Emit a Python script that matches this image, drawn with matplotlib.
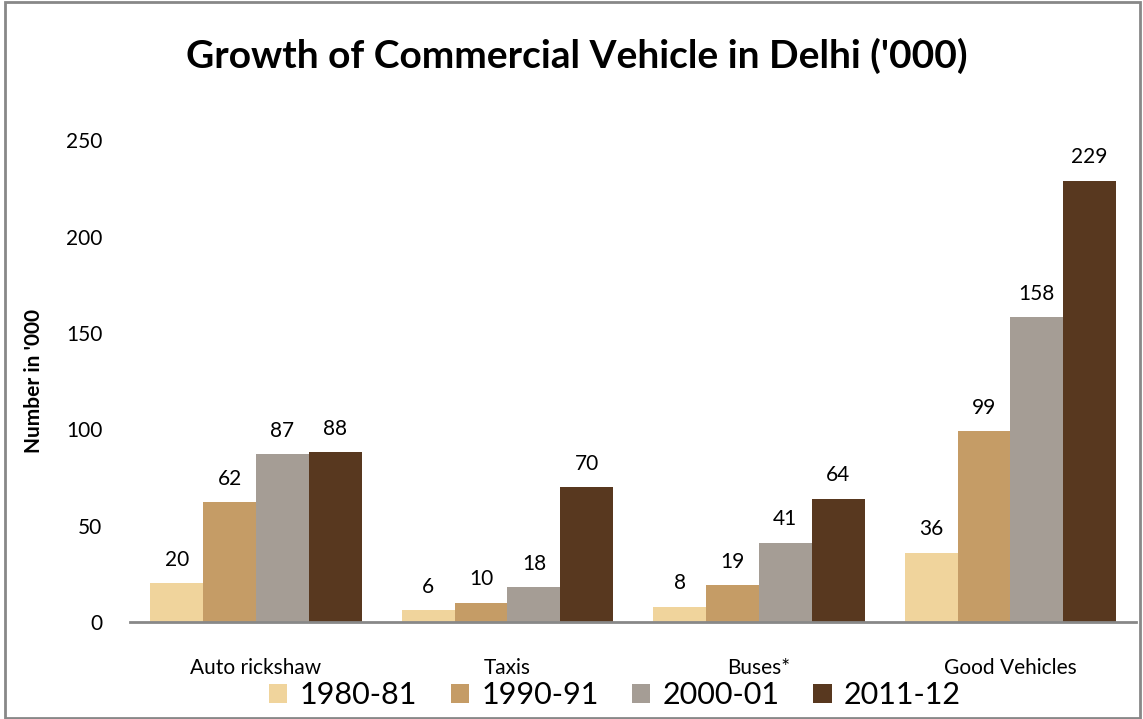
import numpy as np
import matplotlib.pyplot as plt

categories = ['Auto rickshaw', 'Taxis', 'Buses*', 'Good Vehicles']
years = ['1980-81', '1990-91', '2000-01', '2011-12']
v1980 = [20, 6, 8, 36]
v1990 = [62, 10, 19, 99]
v2000 = [87, 18, 41, 158]
v2011 = [88, 70, 64, 229]
series = [v1980, v1990, v2000, v2011]
colors = ['#F0D49C', '#C59C66', '#A59D95', '#58381F']

plt.rcParams['font.family'] = ['Lato', 'DejaVu Sans']

fig = plt.figure(figsize=(11.43, 7.19), dpi=100)
ax = fig.add_axes([0.114, 0.135, 0.88, 0.67])

x = np.arange(len(categories))
w = 0.21
for i, (vals, c) in enumerate(zip(series, colors)):
    bars = ax.bar(x + (i - 1.5) * w, vals, w, color=c, label=years[i], linewidth=0)
    for b, v in zip(bars, vals):
        ax.text(b.get_x() + b.get_width() / 2, v + 7, str(v),
                ha='center', va='bottom', fontsize=15)

ax.set_xlim(-0.5, 3.5)
ax.set_ylim(0, 250)
ax.set_yticks([0, 50, 100, 150, 200, 250])
ax.tick_params(axis='y', length=0, labelsize=15, pad=20)
ax.tick_params(axis='x', length=0, labelsize=15, pad=26)
ax.set_xticks(x)
ax.set_xticklabels(categories)
for s in ['top', 'right', 'left']:
    ax.spines[s].set_visible(False)
ax.spines['bottom'].set_color('#888888')
ax.spines['bottom'].set_linewidth(2)
ax.set_ylabel("Number in '000", fontsize=15, fontweight='bold', labelpad=16)

fig.suptitle("Growth of Commercial Vehicle in Delhi ('000)", fontsize=28,
             fontweight='bold', x=0.505, y=0.947)

fig.legend(loc='lower center', bbox_to_anchor=(0.538, -0.025), ncol=4,
           frameon=False, fontsize=22, handlelength=0.6, handleheight=0.6,
           handletextpad=0.4, columnspacing=1.1)

fig.patches.append(plt.Rectangle((0.004, 0.002), 0.993, 0.995, transform=fig.transFigure,
                                 fill=False, edgecolor='#888888', linewidth=2))

fig.savefig('out.png', dpi=100)
